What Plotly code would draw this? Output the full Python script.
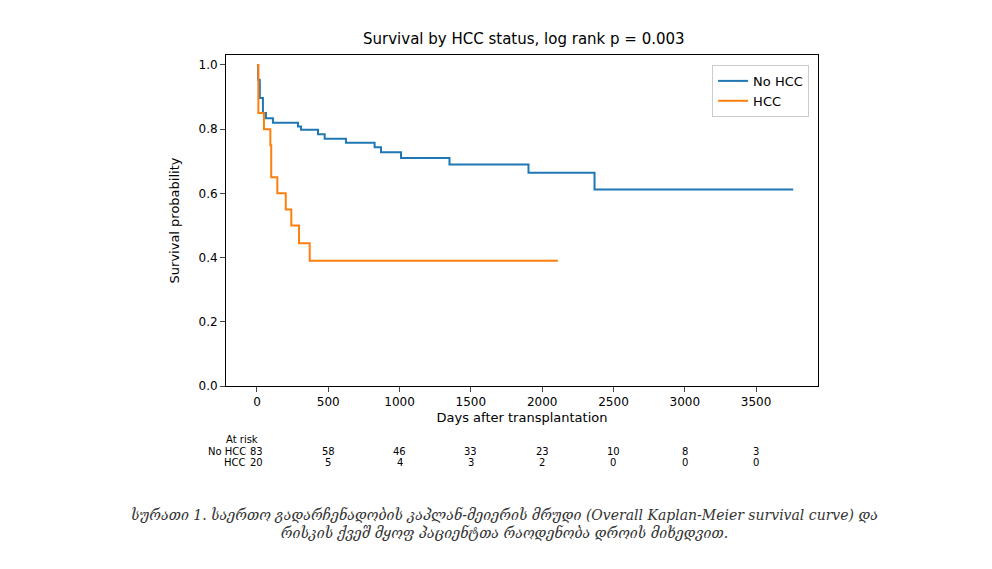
import plotly.graph_objects as go

# Kaplan-Meier step points
no_hcc_days = [0, 8, 20, 42, 63, 112, 288, 309, 428, 475, 624, 825, 870, 1010, 1350, 1904, 2367, 3760]
no_hcc_surv = [1.0, 0.954, 0.897, 0.85, 0.834, 0.82, 0.808, 0.798, 0.784, 0.77, 0.758, 0.744, 0.728, 0.71, 0.69, 0.664, 0.612, 0.612]
hcc_days = [0, 10, 49, 94, 100, 143, 202, 241, 295, 370, 2110]
hcc_surv = [1.0, 0.85, 0.80, 0.75, 0.65, 0.60, 0.55, 0.50, 0.445, 0.39, 0.39]

risk_times = [0, 500, 1000, 1500, 2000, 2500, 3000, 3500]
risk_no_hcc = [83, 58, 46, 33, 23, 10, 8, 3]
risk_hcc = [20, 5, 4, 3, 2, 0, 0, 0]

caption = ("სურათი 1. საერთო გადარჩენადობის კაპლან-მეიერის მრუდი (Overall Kaplan-Meier survival curve) და<br>"
           "რისკის ქვეშ მყოფ პაციენტთა რაოდენობა დროის მიხედვით.")

fig = go.Figure()
fig.add_scatter(x=no_hcc_days, y=no_hcc_surv, name="No HCC", mode="lines",
                line=dict(color="#1f77b4", width=2, shape="hv"))
fig.add_scatter(x=hcc_days, y=hcc_surv, name="HCC", mode="lines",
                line=dict(color="#ff7f0e", width=2, shape="hv"))

font = "DejaVu Sans"
ann = []
ann.append(dict(x=20, y=-0.185, xref="x", yref="paper", text="At risk", showarrow=False,
                xanchor="right", font=dict(size=10)))
for t, a, b in zip(risk_times, risk_no_hcc, risk_hcc):
    ann.append(dict(x=t, y=-0.22, xref="x", yref="paper", text=str(a), showarrow=False, font=dict(size=10)))
    ann.append(dict(x=t, y=-0.255, xref="x", yref="paper", text=str(b), showarrow=False, font=dict(size=10)))
ann.append(dict(x=-65, y=-0.22, xref="x", yref="paper", text="No HCC", showarrow=False,
                xanchor="right", font=dict(size=10)))
ann.append(dict(x=-65, y=-0.255, xref="x", yref="paper", text="HCC", showarrow=False,
                xanchor="right", font=dict(size=10)))
ann.append(dict(x=0.47, y=-0.355, xref="paper", yref="paper", text="<i>" + caption + "</i>",
                showarrow=False, font=dict(family="DejaVu Serif", size=14, color="#333"),
                xanchor="center", yanchor="top", align="center"))

fig.update_layout(
    width=992, height=569,
    margin=dict(l=218, r=182, t=47, b=191, autoexpand=False),
    paper_bgcolor="white", plot_bgcolor="white",
    font=dict(family=font, size=12, color="black"),
    title=dict(text="Survival by HCC status, log rank p = 0.003", x=0.52, y=0.955,
               xanchor="center", font=dict(size=15)),
    xaxis=dict(range=[-217, 3934], tickvals=risk_times, showline=True, mirror=True,
               linecolor="black", ticks="outside", showgrid=False, zeroline=False,
               automargin=False, tickfont=dict(size=12),
               title=dict(text="Days after transplantation", standoff=4, font=dict(size=13))),
    yaxis=dict(range=[0, 1.031], tickvals=[0, 0.2, 0.4, 0.6, 0.8, 1.0], tickformat=".1f",
               showline=True, mirror=True, linecolor="black", ticks="outside",
               showgrid=False, zeroline=False, automargin=False, tickfont=dict(size=12),
               title=dict(text="Survival probability", font=dict(size=13))),
    legend=dict(x=0.985, y=0.97, xanchor="right", yanchor="top", bordercolor="#ccc",
                borderwidth=1, font=dict(size=13)),
    annotations=ann,
)
fig.write_html("out.html")
